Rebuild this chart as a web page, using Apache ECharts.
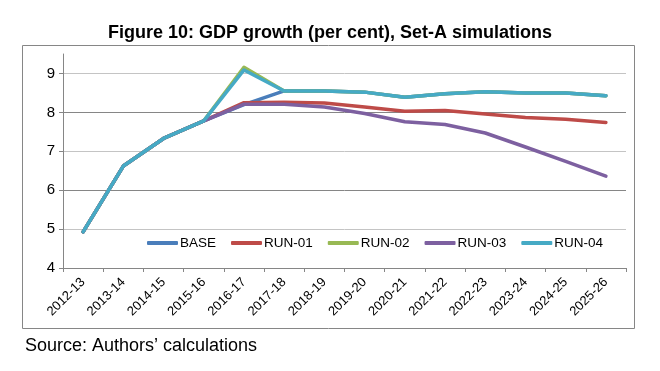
<!DOCTYPE html>
<html><head><meta charset="utf-8">
<script src="https://cdn.jsdelivr.net/npm/echarts@6/dist/echarts.min.js"></script>
<style>html,body{margin:0;padding:0;background:#fff}#c{width:660px;height:371px}</style>
</head><body><div id="c"></div>
<script>
const categories = ['2012-13','2013-14','2014-15','2015-16','2016-17','2017-18','2018-19','2019-20','2020-21','2021-22','2022-23','2023-24','2024-25','2025-26'];
const base  = [4.93, 6.62, 7.33, 7.78, 8.20, 8.55, 8.55, 8.52, 8.39, 8.48, 8.53, 8.50, 8.50, 8.43];
const run01 = [4.93, 6.62, 7.33, 7.78, 8.25, 8.26, 8.24, 8.14, 8.03, 8.05, 7.96, 7.87, 7.82, 7.74];
const run02 = [4.93, 6.62, 7.33, 7.78, 9.16, 8.55, 8.55, 8.52, 8.39, 8.48, 8.53, 8.50, 8.50, 8.43];
const run03 = [4.93, 6.62, 7.33, 7.78, 8.21, 8.21, 8.14, 7.97, 7.76, 7.69, 7.47, 7.11, 6.74, 6.36];
const run04 = [4.93, 6.62, 7.33, 7.78, 9.09, 8.55, 8.55, 8.52, 8.39, 8.48, 8.53, 8.50, 8.50, 8.43];
const yTickValues = [4, 5, 6, 7, 8, 9];
const seriesNames = ['BASE','RUN-01','RUN-02','RUN-03','RUN-04'];
const seriesData = [base, run01, run02, run03, run04];
const colors = ['#4A7EBB','#BE4B48','#98B954','#7D60A0','#46AAC5'];
const FONT = '"Liberation Sans", Arial, sans-serif';

const chart = echarts.init(document.getElementById('c'), null, {renderer:'canvas'});
chart.setOption({
  animation: false,
  color: colors,
  textStyle: {fontFamily: FONT},
  title: [
    {text: 'Figure 10: GDP growth (per cent), Set-A simulations', left: 'center', top: 19,
     textStyle: {fontFamily: FONT, fontSize: 18, fontWeight: 'bold', color: '#000'}},
    {text: 'Source: Authors\u2019 calculations', left: 20, top: 332,
     textStyle: {fontFamily: FONT, fontSize: 18, fontWeight: 'normal', color: '#000'}}
  ],
  graphic: [{type: 'rect', shape: {x: 22.5, y: 45.5, width: 612, height: 283},
    style: {fill: 'none', stroke: '#868686', lineWidth: 1}, silent: true, z: -1}],
  legend: {
    data: seriesNames, left: 142, top: 231, itemWidth: 31, itemHeight: 4, itemGap: 15,
    icon: 'roundRect',
    textStyle: {fontFamily: FONT, fontSize: 13.5, color: '#000', padding: [0,0,0,-3]}
  },
  grid: {left: 63, right: 34, top: 54, bottom: 103, containLabel: false, outerBoundsMode: 'none'},
  xAxis: {
    type: 'category', data: categories, boundaryGap: true,
    axisLine: {lineStyle: {color: '#868686', width: 1}},
    axisTick: {show: true, alignWithLabel: false, length: 4, lineStyle: {color: '#868686'}},
    axisLabel: {rotate: 45, fontFamily: FONT, fontSize: 13, color: '#000', margin: 12, interval: 0}
  },
  yAxis: {
    type: 'value', min: 4, max: 9.5, interval: 0.5,
    axisLine: {show: true, lineStyle: {color: '#868686', width: 1}},
    axisTick: {show: true, length: 4, customValues: yTickValues, lineStyle: {color: '#868686'}},
    axisLabel: {fontFamily: FONT, fontSize: 15, color: '#000', margin: 8, customValues: yTickValues,
      formatter: v => (Number.isInteger(v) ? String(v) : '')},
    splitLine: {show: true, lineStyle: {color: ['#868686', '#C4C4C4'], width: 1}}
  },
  series: seriesNames.map((n, i) => ({
    name: n, type: 'line', data: seriesData[i], showSymbol: false, symbol: 'none',
    lineStyle: {width: 3.5, color: colors[i], cap: 'round', join: 'round'},
    itemStyle: {color: colors[i]}, z: 2 + i
  }))
});
</script></body></html>
